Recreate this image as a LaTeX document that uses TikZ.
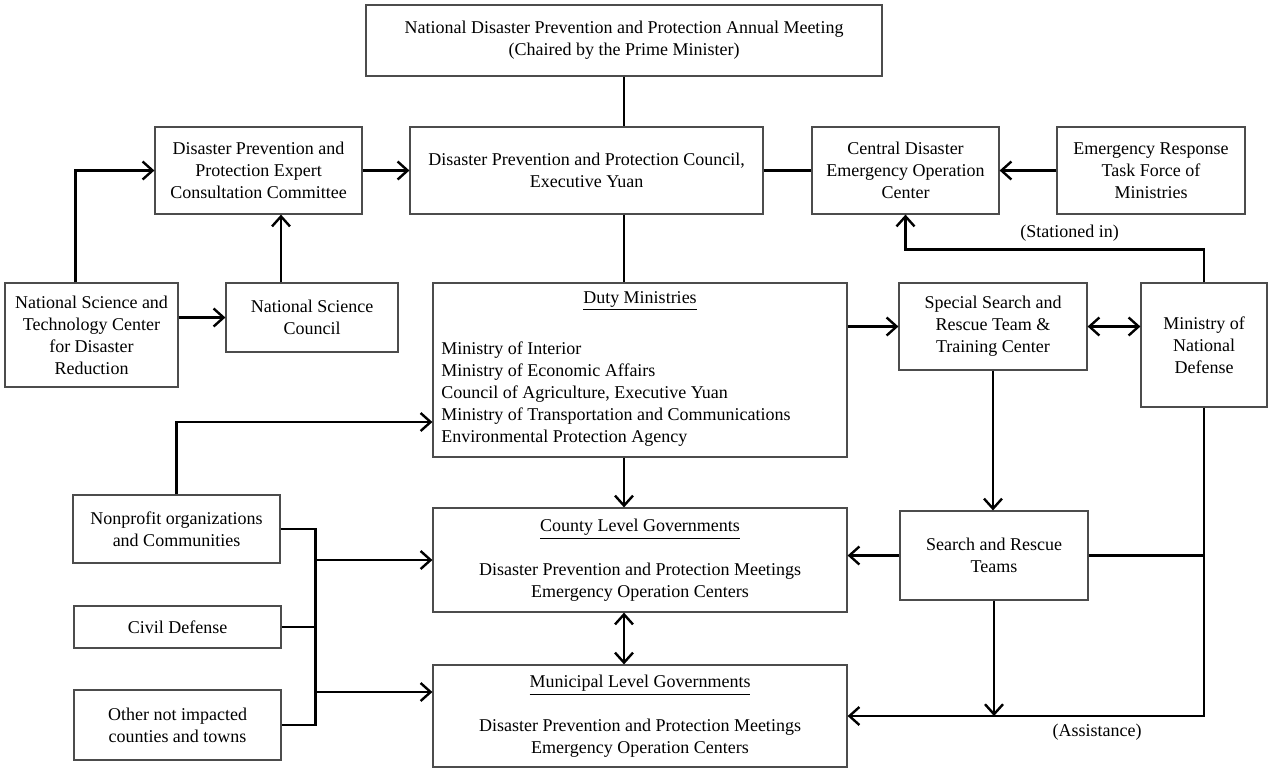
\documentclass[tikz,border=0pt]{standalone}
\usepackage{fontspec}
\setmainfont{Liberation Serif}
\usepackage{tikz}
\usetikzlibrary{%
  calc,%
  arrows.meta%
}
\tikzset{
  box/.style={draw=black!70, line width=0.6pt, align=center, inner sep=1pt,
    font=\fontsize{9}{11}\selectfont},
  link/.style={line width=1.2pt},
  every edge/.append style={link},
  >={Straight Barb[length=5pt,width=9pt]}
}

\begin{document}
\begin{tikzpicture}[x=0.5pt, y=-0.5pt]
\useasboundingbox (0,0) rectangle (1268,768);
\node[box, minimum width=258pt, minimum height=35.5pt] (annual) at (624,40.5)
  {National Disaster Prevention and Protection Annual Meeting\\(Chaired by the Prime Minister)};
\node[box, minimum width=103.5pt, minimum height=43.5pt] (expert) at (258.5,170.5)
  {Disaster Prevention and\\Protection Expert\\Consultation Committee};
\node[box, minimum width=176.5pt, minimum height=43.5pt] (council) at (586.5,170.5)
  {Disaster Prevention and Protection Council,\\Executive Yuan};
\node[box, minimum width=93.5pt, minimum height=43.5pt] (ceoc) at (905.5,170.5)
  {Central Disaster\\Emergency Operation\\Center};
\node[box, minimum width=94pt, minimum height=43.5pt] (taskforce) at (1151,170.5)
  {Emergency Response\\Task Force of\\Ministries};
\node[box, minimum width=86.5pt, minimum height=52pt] (nstc) at (91.5,335)
  {National Science and\\Technology Center\\for Disaster\\Reduction};
\node[box, minimum width=86pt, minimum height=34.5pt] (nsc) at (312,317.5)
  {National Science\\Council};
\node[box, minimum width=207pt, minimum height=87pt] (duty) at (640,370)
  {\underline{Duty Ministries}\\[13pt]%
   \begin{tabular}{@{}l@{}}
   Ministry of Interior\\
   Ministry of Economic Affairs\\
   Council of Agriculture, Executive Yuan\\
   Ministry of Transportation and Communications\\
   Environmental Protection Agency
   \end{tabular}\hspace*{24pt}};
\node[box, minimum width=94pt, minimum height=43.5pt] (sar) at (993,326.5)
  {Special Search and\\Rescue Team \&\\Training Center};
\node[box, minimum width=63pt, minimum height=62pt] (mnd) at (1204,345)
  {Ministry of\\National\\Defense};
\node[box, minimum width=103.5pt, minimum height=34pt] (npo) at (176.5,529)
  {Nonprofit organizations\\and Communities};
\node[box, minimum width=103.5pt, minimum height=21pt] (civil) at (177.5,627)
  {Civil Defense};
\node[box, minimum width=103.5pt, minimum height=35pt] (others) at (177.5,725)
  {Other not impacted\\counties and towns};
\node[box, minimum width=207pt, minimum height=52pt] (county) at (640,560)
  {\underline{County Level Governments}\\[11pt]Disaster Prevention and Protection Meetings\\Emergency Operation Centers};
\node[box, minimum width=207pt, minimum height=51pt] (muni) at (640,716)
  {\underline{Municipal Level Governments}\\[11pt]Disaster Prevention and Protection Meetings\\Emergency Operation Centers};
\node[box, minimum width=94pt, minimum height=44.5pt] (teams) at (994,555.5)
  {Search and Rescue\\Teams};

\coordinate (axis) at (annual.south);
\coordinate (bus) at ([xshift=17.5pt]npo.east);
\coordinate (nscup) at ([xshift=-15.5pt]nsc.north);
\coordinate (npoin) at ([yshift=-26pt]duty.west);
\coordinate (muniin) at ([yshift=12pt]muni.west);

\draw[link]
	(axis) edge (axis |- council.north)
	(axis |- council.south) edge (axis |- duty.north)
	(expert) edge[->] (council)
	(council) edge (ceoc)
	(taskforce) edge[->] (ceoc)
	(nstc.east |- nsc.west) edge[->] (nsc.west)
	(nscup) edge[->] (nscup |- expert.south)
	(duty.east |- sar.west) edge[->] (sar.west)
	(sar.east) edge[<->] (sar.east -| mnd.west)
	(sar.south) edge[->] (sar.south |- teams.north)
	(axis |- duty.south) edge[->] (axis |- county.north)
	(axis |- county.south) edge[<->] (axis |- muni.north)
	(teams.west) edge[->] (teams.west -| county.east)
	(teams.east) edge (teams.east -| mnd.south)
	(teams.south) edge[->] (teams.south |- muni.east)
	(bus |- county.west) edge[->] (county.west)
	(bus |- muniin) edge[->] (muniin)
	(civil.east) edge (civil.east -| bus)
;
\draw[link, ->] ([xshift=-8pt]nstc.north) |- (expert.west);
\draw[link, ->] (npo.north) |- (npoin);
\draw[link] (npo.east) -- (bus) -- (bus |- others.east) -- (others.east);
\draw[link, ->] (mnd.north) -- ++(0,-33) coordinate (turn) -- (turn -| ceoc.south)
  node[pos=0.45, above, font=\fontsize{9}{11}\selectfont] {(Stationed in)} -- (ceoc.south);
\draw[link, ->] (mnd.south) |- (muni.east)
  node[pos=0.65, below, font=\fontsize{9}{11}\selectfont] {(Assistance)};
\end{tikzpicture}
\end{document}
